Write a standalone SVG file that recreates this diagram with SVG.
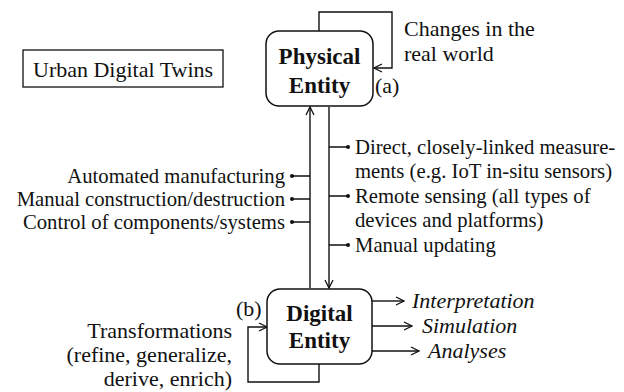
<svg xmlns="http://www.w3.org/2000/svg" width="624" height="392" viewBox="0 0 624 392">
<defs>
<style>
text{font-family:'Liberation Serif',serif;font-size:22px;fill:#111}
.s{font-size:20.7px}
.b{font-weight:bold;font-size:23px}
.i{font-style:italic}
.box{fill:#fff;stroke:#111;stroke-width:1.5}
.ln{fill:none;stroke:#111;stroke-width:1.4}
.dot{fill:#111}
</style>
<marker id="ah" viewBox="0 0 10 10" refX="9" refY="5" markerWidth="10" markerHeight="10" markerUnits="userSpaceOnUse" orient="auto">
<path d="M1,1 L9,5 L1,9" fill="none" stroke="#111" stroke-width="1.3"/>
</marker>
</defs>
<g id="connectors">
<path class="ln" d="M319,31 V12 H392 V68 H374" marker-end="url(#ah)"/>
<path class="ln" d="M310,288 V107" marker-end="url(#ah)"/>
<path class="ln" d="M329,107 V288" marker-end="url(#ah)"/>
<path class="ln" d="M310,176 H292 M310,199 H292 M310,222 H292"/>
<circle class="dot" cx="292" cy="176" r="2"/>
<circle class="dot" cx="292" cy="199" r="2"/>
<circle class="dot" cx="292" cy="222" r="2"/>
<path class="ln" d="M329,147 H348 M329,196 H348 M329,245 H348"/>
<circle class="dot" cx="348" cy="147" r="2"/>
<circle class="dot" cx="348" cy="196" r="2"/>
<circle class="dot" cx="348" cy="245" r="2"/>
<path class="ln" d="M372,301 H404" marker-end="url(#ah)"/>
<path class="ln" d="M372,326 H412" marker-end="url(#ah)"/>
<path class="ln" d="M372,351 H419" marker-end="url(#ah)"/>
<path class="ln" d="M319,364 V382 H248 V327 H267" marker-end="url(#ah)"/>
</g>
<g id="urban-digital-twins">
<rect x="23" y="50" width="200" height="37" fill="#fff" stroke="#111" stroke-width="1.3"/>
<text x="33" y="77">Urban Digital Twins</text>
</g>
<g id="physical-entity">
<rect class="box" x="266" y="31" width="107" height="75" rx="13"/>
<text class="b" x="319.5" y="64" text-anchor="middle">Physical</text>
<text class="b" x="319.5" y="93" text-anchor="middle">Entity</text>
<text x="375" y="93">(a)</text>
<text x="404" y="36">Changes in the</text>
<text x="404" y="61">real world</text>
</g>
<g id="digital-entity">
<rect class="box" x="267" y="289" width="105" height="75" rx="13"/>
<text class="b" x="319.5" y="321" text-anchor="middle">Digital</text>
<text class="b" x="319.5" y="348" text-anchor="middle">Entity</text>
<text x="236" y="316">(b)</text>
<text x="232" y="338" text-anchor="end">Transformations</text>
<text x="232" y="362" text-anchor="end">(refine, generalize,</text>
<text x="232" y="386" text-anchor="end">derive, enrich)</text>
<text class="i" x="412" y="308">Interpretation</text>
<text class="i" x="422" y="333">Simulation</text>
<text class="i" x="428" y="358">Analyses</text>
</g>
<g id="actuation-labels">
<text class="s" x="285" y="183" text-anchor="end">Automated manufacturing</text>
<text class="s" x="285" y="206" text-anchor="end">Manual construction/destruction</text>
<text class="s" x="285" y="229" text-anchor="end">Control of components/systems</text>
</g>
<g id="sensing-labels">
<text class="s" x="355" y="154">Direct, closely-linked measure-</text>
<text class="s" x="355" y="178">ments (e.g. IoT in-situ sensors)</text>
<text class="s" x="355" y="203">Remote sensing (all types of</text>
<text class="s" x="355" y="227">devices and platforms)</text>
<text class="s" x="355" y="252">Manual updating</text>
</g>
</svg>
